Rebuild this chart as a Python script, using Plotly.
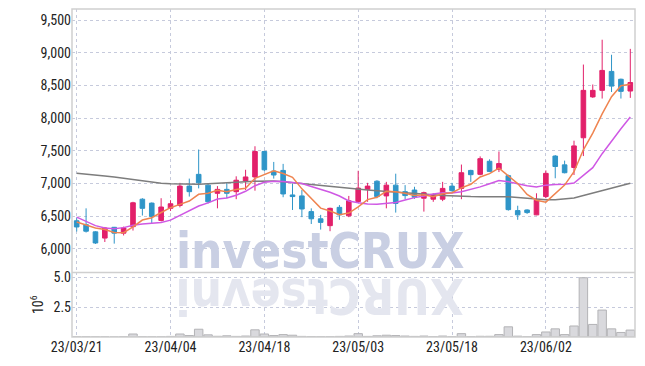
import plotly.graph_objects as go

dates = [
    "23/03/21", "23/03/22", "23/03/23", "23/03/24", "23/03/27", "23/03/28", "23/03/29", "23/03/30", "23/03/31", "23/04/03",
    "23/04/04", "23/04/05", "23/04/06", "23/04/07", "23/04/10", "23/04/11", "23/04/12", "23/04/13", "23/04/14", "23/04/17",
    "23/04/18", "23/04/19", "23/04/20", "23/04/21", "23/04/24", "23/04/25", "23/04/26", "23/04/27", "23/04/28", "23/05/02",
    "23/05/03", "23/05/04", "23/05/08", "23/05/09", "23/05/10", "23/05/11", "23/05/12", "23/05/15", "23/05/16", "23/05/17",
    "23/05/18", "23/05/19", "23/05/22", "23/05/23", "23/05/24", "23/05/25", "23/05/26", "23/05/30", "23/05/31", "23/06/01",
    "23/06/02", "23/06/05", "23/06/07", "23/06/08", "23/06/09", "23/06/12", "23/06/13", "23/06/14", "23/06/15", "23/06/16",
]

opens = [6430, 6370, 6260, 6165, 6330, 6240, 6340, 6760, 6700, 6435,
         6620, 6665, 6960, 7140, 6975, 6850, 6910, 6875, 7040, 7100,
         7490, 7190, 7200, 6825, 6810, 6570, 6460, 6355, 6635, 6505,
         6725, 6910, 7035, 6810, 6975, 6875, 6900, 6775, 6760, 6760,
         6960, 6925, 7200, 7140, 7340, 7215, 7120, 6585, 6595, 6520,
         6800, 7420, 7285, 7245, 7700, 8325, 8425, 8715, 8595, 8415]
highs = [6480, 6620, 6270, 6335, 6335, 6340, 6720, 6775, 6710, 6775,
         6745, 7010, 7075, 7520, 7000, 6960, 7010, 7110, 7210, 7570,
         7500, 7330, 7300, 7000, 6900, 6620, 6520, 6630, 6670, 6810,
         7195, 7010, 7050, 7025, 7150, 6975, 6950, 6875, 6850, 7025,
         7010, 7290, 7210, 7415, 7370, 7490, 7135, 6660, 6605, 6850,
         7200, 7435, 7350, 7655, 8820, 8515, 9200, 8970, 8605, 9060]
lows = [6265, 6250, 6075, 6105, 6080, 6205, 6280, 6510, 6380, 6420,
        6580, 6635, 6800, 6925, 6695, 6620, 6775, 6760, 6900, 6890,
        7190, 7075, 6790, 6595, 6485, 6380, 6295, 6270, 6445, 6485,
        6710, 6720, 6775, 6620, 6555, 6760, 6765, 6570, 6720, 6730,
        6875, 6760, 7025, 7125, 7175, 7175, 6585, 6445, 6535, 6515,
        6775, 7080, 7155, 7130, 7420, 8310, 8300, 8400, 8300, 8310]
closes = [6335, 6270, 6090, 6320, 6240, 6320, 6705, 6620, 6495, 6640,
          6690, 6960, 6875, 7010, 6720, 6910, 6850, 7050, 7100, 7490,
          7210, 7130, 6840, 6800, 6610, 6460, 6405, 6620, 6520, 6735,
          6930, 6960, 6800, 6975, 6695, 6815, 6790, 6860, 6825, 6925,
          6890, 7165, 7135, 7380, 7185, 7305, 6600, 6520, 6555, 6745,
          7155, 7260, 7165, 7575, 8425, 8425, 8730, 8490, 8410, 8545]

# volume in millions of shares
volume_m = [0.03, 0.03, 0.02, 0.02, 0.01, 0.03, 0.25, 0.03, 0.02, 0.02,
            0.05, 0.25, 0.12, 0.65, 0.18, 0.06, 0.10, 0.05, 0.08, 0.60,
            0.25, 0.12, 0.20, 0.15, 0.05, 0.04, 0.03, 0.03, 0.05, 0.08,
            0.28, 0.05, 0.10, 0.15, 0.12, 0.08, 0.05, 0.08, 0.03, 0.08,
            0.03, 0.28, 0.03, 0.06, 0.06, 0.20, 0.85, 0.07, 0.03, 0.20,
            0.42, 0.68, 0.20, 0.92, 4.95, 1.05, 2.25, 0.68, 0.38, 0.58]

ma5 = [6410, 6360, 6320, 6295, 6251, 6248, 6335, 6441, 6476, 6556,
       6630, 6681, 6732, 6835, 6851, 6895, 6873, 6908, 6926, 7080,
       7140, 7196, 7154, 7094, 6918, 6768, 6623, 6579, 6523, 6548,
       6642, 6753, 6789, 6880, 6872, 6849, 6815, 6827, 6797, 6843,
       6858, 6933, 6988, 7099, 7151, 7234, 7121, 6998, 6833, 6745,
       6715, 6847, 6976, 7180, 7516, 7770, 8064, 8329, 8496, 8520]
ma10 = [6485, 6420, 6355, 6318, 6308, 6325, 6360, 6380, 6392, 6404,
        6439, 6508, 6587, 6656, 6704, 6763, 6777, 6820, 6881, 6966,
        7018, 7035, 7031, 7010, 6999, 6954, 6910, 6867, 6809, 6733,
        6705, 6688, 6684, 6702, 6710, 6746, 6784, 6808, 6839, 6858,
        6854, 6874, 6908, 6948, 6997, 7046, 7027, 6993, 6966, 6948,
        6975, 6984, 6987, 7007, 7131, 7243, 7456, 7653, 7838, 8018]
ma60 = [7155, 7145, 7130, 7115, 7100, 7080, 7060, 7040, 7020, 7005,
        6995, 6990, 6990, 6990, 6995, 7000, 7005, 7015, 7025, 7035,
        7040, 7038, 7025, 7010, 6995, 6980, 6965, 6950, 6938, 6928,
        6915, 6900, 6888, 6876, 6865, 6855, 6845, 6835, 6826, 6818,
        6810, 6803, 6800, 6798, 6798, 6800, 6797, 6785, 6770, 6758,
        6750, 6752, 6762, 6777, 6815, 6853, 6891, 6929, 6967, 7005]

price_ticks = [6000, 6500, 7000, 7500, 8000, 8500, 9000, 9500]
volume_ticks = [2.5, 5.0]
volume_tick_text = ["2.5", "5.0"]
tick_dates = dates[::10]

RED = "#e2206a"
BLUE = "#2f95c8"
GRID = "#c6cadc"
BORDER = "#cfcfcf"
FONT = "Liberation Sans Narrow, Roboto Condensed, Roboto, sans-serif"
VOL_SPLIT = 0.197
TICKFONT = dict(family=FONT, size=14, color="#222222")

fig = go.Figure()
fig.add_trace(go.Candlestick(
    x=dates, open=opens, high=highs, low=lows, close=closes,
    xaxis="x", yaxis="y", whiskerwidth=0,
    increasing=dict(line=dict(color=RED, width=1), fillcolor=RED),
    decreasing=dict(line=dict(color=BLUE, width=1), fillcolor=BLUE),
    showlegend=False, hoverinfo="skip",
))
fig.add_trace(go.Scatter(x=dates, y=ma60, mode="lines", xaxis="x", yaxis="y",
                         line=dict(color="#7d7d7d", width=1.5), showlegend=False))
fig.add_trace(go.Scatter(x=dates, y=ma10, mode="lines", xaxis="x", yaxis="y",
                         line=dict(color="#cf58e4", width=1.5), showlegend=False))
fig.add_trace(go.Scatter(x=dates, y=ma5, mode="lines", xaxis="x", yaxis="y",
                         line=dict(color="#ef8450", width=1.5), showlegend=False))
fig.add_trace(go.Bar(x=dates, y=volume_m, xaxis="x", yaxis="y2", width=0.9,
                     marker=dict(color="#d9d9dd", line=dict(color="#b3b3b6", width=1)),
                     showlegend=False))

# the page body adds an 8 px margin, so the figure is 16 px smaller than the window
fig.update_layout(
    width=629, height=350,
    margin=dict(l=64, r=2, t=1, b=21),
    paper_bgcolor="white", plot_bgcolor="white",
    font=dict(family=FONT, size=14, color="#222222"),
    boxgap=0.3,
    xaxis=dict(
        type="category", categoryorder="array", categoryarray=dates,
        range=[-0.5, len(dates) - 0.5], anchor="y2", automargin=False,
        tickmode="array", tickvals=tick_dates, ticktext=tick_dates,
        showgrid=True, gridcolor=GRID, griddash="dot", gridwidth=1,
        rangeslider=dict(visible=False), ticks="", showline=False,
        tickfont=TICKFONT,
    ),
    yaxis=dict(
        domain=[VOL_SPLIT, 1], range=[5640, 9670], automargin=False,
        tickmode="array", tickvals=price_ticks, tickformat=",d",
        showgrid=True, gridcolor=GRID, griddash="dot", gridwidth=1,
        zeroline=False, ticks="", showline=False, tickfont=TICKFONT,
    ),
    yaxis2=dict(
        domain=[0, VOL_SPLIT], range=[0, 5.4], automargin=False,
        tickmode="array", tickvals=volume_ticks, ticktext=volume_tick_text,
        showgrid=True, gridcolor=GRID, griddash="dot", gridwidth=1,
        zeroline=False, ticks="", showline=False, tickfont=TICKFONT,
        title=dict(text="10<sup>6</sup>", standoff=6, font=dict(family=FONT, size=14, color="#222222")),
    ),
    shapes=[
        dict(type="rect", xref="paper", yref="paper", x0=0, x1=1, y0=0, y1=1,
             line=dict(color=BORDER, width=1.5), layer="above"),
        dict(type="line", xref="paper", yref="paper", x0=0, x1=1, y0=VOL_SPLIT, y1=VOL_SPLIT,
             line=dict(color=BORDER, width=1.5), layer="above"),
    ],
    annotations=[
        dict(text="<b>investCRUX</b>", xref="paper", yref="paper", x=0.4405, y=VOL_SPLIT,
             xanchor="center", yanchor="bottom", yshift=-10, showarrow=False,
             font=dict(family="DejaVu Sans Condensed, DejaVu Sans", size=49, color="#c9cfe3")),
        dict(text="<b>XURCtsevni</b>", xref="paper", yref="paper", x=0.4405, y=VOL_SPLIT,
             xanchor="center", yanchor="top", yshift=8, textangle=180, showarrow=False,
             font=dict(family="DejaVu Sans Condensed, DejaVu Sans", size=49, color="#e4e6ef")),
    ],
)

fig.write_html("out.html")
